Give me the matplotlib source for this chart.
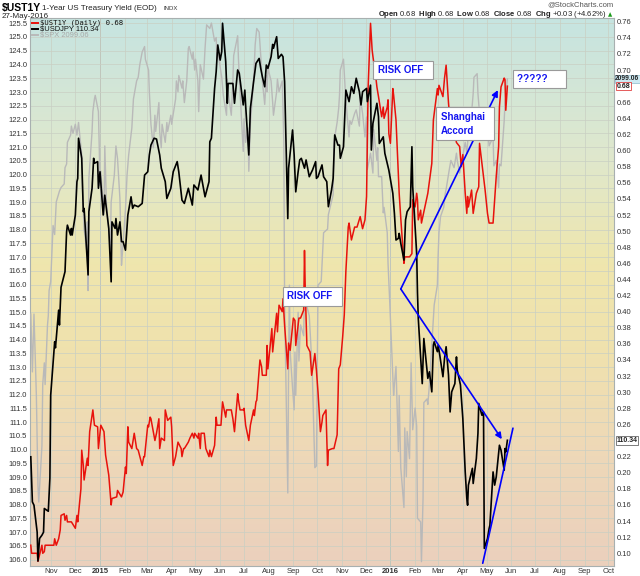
import matplotlib
matplotlib.use("Agg")
import matplotlib.pyplot as plt
import matplotlib.dates as mdates
import matplotlib.transforms as mtransforms
from matplotlib.colors import LinearSegmentedColormap
from matplotlib.lines import Line2D
import numpy as np
import pandas as pd

plt.rcParams['font.family'] = ['Liberation Sans', 'DejaVu Sans']
plt.rcParams['mathtext.fontset'] = 'custom'
plt.rcParams['mathtext.rm'] = 'Liberation Sans'
plt.rcParams['mathtext.bf'] = 'Liberation Sans:bold'

# trading days shown on the chart
first_day = "2014-10-06"
last_day = "2016-05-27"

# $USDJPY (left axis) - trading day number, close
jpy_day = [0, 2, 4, 6, 7, 9, 10, 12, 13, 16, 18, 19, 22, 23, 25, 26, 28, 31, 33, 34,
           36, 37, 38, 40, 42, 43, 44, 46, 48, 49, 52, 53, 55, 57, 58, 60, 61, 63, 65, 67,
           70, 73, 74, 76, 77, 79, 80, 82, 84, 85, 88, 90, 92, 94, 97, 100, 103, 105, 107, 109,
           111, 114, 116, 118, 121, 123, 126, 129, 132, 134, 136, 139, 142, 145, 147, 150, 154, 157, 160, 161,
           163, 165, 167, 169, 170, 172, 173, 175, 177, 178, 182, 184, 186, 188, 191, 193, 194, 196, 198, 200,
           203, 205, 207, 209, 210, 212, 214, 216, 218, 219, 221, 223, 225, 227, 229, 231, 232, 235, 237, 239,
           240, 242, 244, 246, 248, 250, 252, 254, 256, 257, 259, 262, 264, 266, 268, 270, 272, 274, 276, 278,
           279, 281, 284, 286, 289, 290, 293, 295, 297, 299, 302, 303, 305, 306, 308, 311, 313, 314, 317, 319,
           320, 322, 325, 327, 329, 330, 331, 333, 335, 337, 339, 341, 343, 344, 347, 348, 349, 352, 354, 357,
           359, 360, 362, 363, 365, 366, 368, 370, 372, 374, 375, 377, 379, 381, 383, 384, 386, 389, 390, 392,
           393, 394, 397, 398, 400, 402, 403, 405, 407, 408, 410, 412, 413, 415, 417, 419, 421, 423, 425, 426,
           427, 429]
jpy_val = [109.74, 108.10, 107.98, 107.00, 105.95, 106.77, 106.89, 107.00, 107.86, 107.76,
           108.96, 111.98, 113.92, 113.70, 115.07, 114.53, 115.90, 116.47, 117.92, 118.16,
           117.80, 118.04, 117.80, 118.53, 119.74, 119.86, 121.32, 120.59, 118.65, 118.77,
           116.35, 118.65, 119.50, 120.59, 120.41, 120.47, 119.50, 120.10, 118.53, 119.25,
           118.04, 116.10, 118.28, 118.04, 118.40, 117.80, 118.28, 117.56, 117.56, 117.25,
           118.53, 119.19, 118.77, 118.89, 118.83, 118.95, 119.98, 120.10, 120.71, 121.07,
           121.32, 121.29, 120.71, 120.23, 119.74, 119.13, 119.50, 120.10, 120.47, 120.10,
           119.07, 118.95, 119.50, 118.89, 119.62, 119.44, 119.98, 119.19, 119.74, 121.19,
           121.32, 123.13, 123.74, 124.71, 124.16, 124.47, 125.50, 124.10, 122.59, 123.31,
           123.31, 122.59, 123.80, 123.68, 122.53, 123.07, 122.53, 120.71, 122.41, 123.37,
           124.04, 124.22, 123.86, 123.56, 123.19, 123.98, 123.86, 124.28, 124.73, 124.59,
           125.01, 124.22, 124.37, 124.28, 123.37, 118.40, 120.23, 121.62, 120.71, 119.37,
           120.10, 120.53, 120.59, 120.23, 120.53, 119.92, 120.04, 120.16, 120.47, 119.86,
           119.92, 120.35, 119.92, 119.74, 118.83, 119.44, 119.86, 121.44, 121.07, 121.07,
           120.59, 121.01, 123.07, 122.65, 123.19, 122.95, 123.50, 123.01, 122.53, 123.01,
           123.13, 122.65, 123.25, 120.89, 121.86, 122.59, 122.10, 121.13, 121.37, 120.77,
           120.41, 120.16, 119.32, 118.59, 117.62, 117.68, 117.86, 117.50, 116.89, 118.35,
           118.65, 118.83, 121.01, 119.56, 117.13, 115.70, 114.77, 112.40, 114.04, 112.59,
           112.83, 112.10, 113.80, 113.92, 113.56, 113.80, 113.44, 112.65, 113.32, 113.74,
           112.71, 111.37, 112.10, 112.40, 113.37, 112.89, 112.35, 111.13, 109.19, 108.23,
           107.98, 108.71, 109.32, 108.77, 109.68, 110.59, 111.68, 111.25, 111.37, 106.41,
           106.77, 107.13, 107.25, 109.19, 108.71, 109.01, 110.16, 109.98, 109.25, 110.04,
           109.92, 110.34]

# $UST1Y (right axis) - trading day number, yield
ust_day = [0, 1, 6, 7, 10, 11, 13, 14, 21, 22, 24, 25, 27, 28, 30, 31, 33, 34, 37, 40,
           42, 43, 45, 46, 48, 49, 51, 52, 54, 56, 58, 60, 61, 64, 66, 68, 70, 71, 73, 74,
           78, 79, 82, 84, 85, 86, 88, 89, 91, 94, 95, 97, 100, 102, 103, 105, 106, 108, 109, 112,
           114, 115, 116, 118, 120, 121, 124, 126, 127, 129, 130, 133, 135, 136, 138, 139, 142, 144, 145, 147,
           148, 150, 151, 153, 154, 156, 158, 160, 161, 163, 165, 167, 168, 171, 173, 175, 176, 180, 182, 184,
           186, 187, 189, 191, 192, 194, 196, 198, 200, 201, 203, 204, 206, 208, 209, 212, 213, 214, 217, 218,
           221, 222, 224, 226, 227, 229, 231, 232, 234, 236, 238, 239, 241, 243, 245, 246, 247, 249, 251, 253,
           255, 257, 259, 260, 262, 263, 265, 267, 268, 271, 273, 275, 277, 279, 280, 282, 284, 285, 286, 289,
           291, 294, 296, 299, 300, 302, 303, 304, 305, 307, 308, 310, 311, 313, 315, 317, 318, 320, 321, 322,
           324, 325, 326, 329, 330, 331, 333, 335, 336, 340, 343, 344, 345, 347, 348, 349, 350, 351, 354, 357,
           360, 362, 365, 366, 367, 370, 372, 374, 375, 377, 381, 383, 385, 387, 389, 390, 392, 393, 394, 396,
           398, 400, 403, 404, 407, 409, 410, 412, 415, 417, 419, 420, 421, 423, 425, 426, 427, 429]
ust_val = [0.110, 0.100, 0.100, 0.090, 0.110, 0.100, 0.102, 0.110, 0.110, 0.118,
           0.110, 0.118, 0.129, 0.147, 0.149, 0.141, 0.147, 0.139, 0.139, 0.131,
           0.147, 0.139, 0.180, 0.228, 0.209, 0.191, 0.218, 0.209, 0.251, 0.278,
           0.259, 0.257, 0.230, 0.259, 0.251, 0.222, 0.197, 0.185, 0.160, 0.168,
           0.170, 0.178, 0.170, 0.176, 0.207, 0.199, 0.257, 0.238, 0.230, 0.249,
           0.230, 0.228, 0.209, 0.220, 0.220, 0.259, 0.257, 0.269, 0.267, 0.240,
           0.249, 0.267, 0.230, 0.243, 0.240, 0.278, 0.265, 0.269, 0.257, 0.209,
           0.220, 0.238, 0.230, 0.220, 0.230, 0.230, 0.238, 0.243, 0.249, 0.243,
           0.249, 0.243, 0.249, 0.230, 0.249, 0.249, 0.230, 0.220, 0.228, 0.220,
           0.234, 0.269, 0.259, 0.259, 0.288, 0.269, 0.278, 0.278, 0.267, 0.251,
           0.298, 0.290, 0.278, 0.278, 0.280, 0.259, 0.240, 0.259, 0.278, 0.271,
           0.288, 0.290, 0.340, 0.332, 0.321, 0.321, 0.358, 0.329, 0.379, 0.350,
           0.398, 0.375, 0.408, 0.400, 0.416, 0.383, 0.329, 0.361, 0.352, 0.392,
           0.389, 0.358, 0.392, 0.392, 0.402, 0.476, 0.425, 0.358, 0.350, 0.321,
           0.348, 0.327, 0.300, 0.251, 0.263, 0.271, 0.278, 0.209, 0.228, 0.230,
           0.230, 0.247, 0.329, 0.334, 0.369, 0.396, 0.450, 0.505, 0.510, 0.489,
           0.505, 0.505, 0.518, 0.503, 0.514, 0.543, 0.613, 0.679, 0.758, 0.725,
           0.717, 0.688, 0.679, 0.667, 0.642, 0.654, 0.640, 0.654, 0.663, 0.621,
           0.609, 0.677, 0.669, 0.638, 0.568, 0.547, 0.516, 0.460, 0.468, 0.468,
           0.472, 0.539, 0.530, 0.547, 0.539, 0.514, 0.526, 0.510, 0.524, 0.547,
           0.584, 0.638, 0.677, 0.669, 0.681, 0.667, 0.690, 0.706, 0.659, 0.635,
           0.620, 0.610, 0.605, 0.580, 0.595, 0.547, 0.522, 0.543, 0.530, 0.551,
           0.522, 0.547, 0.555, 0.609, 0.568, 0.551, 0.522, 0.510, 0.510, 0.539,
           0.568, 0.605, 0.654, 0.679, 0.690, 0.688, 0.650, 0.680]

# $SPX (overlay, no axis) - trading day number, close
spx_day = [0, 2, 4, 5, 7, 8, 10, 11, 13, 14, 15, 16, 17, 19, 20, 22, 24, 26, 28, 30,
           31, 33, 34, 36, 37, 39, 40, 42, 44, 46, 47, 49, 50, 51, 52, 53, 55, 56, 58, 59,
           61, 62, 63, 64, 66, 67, 69, 70, 72, 73, 75, 77, 79, 80, 82, 83, 85, 87, 89, 91,
           93, 95, 97, 99, 100, 103, 104, 106, 107, 109, 110, 112, 113, 115, 116, 118, 119, 121, 123, 124,
           126, 127, 130, 131, 133, 134, 136, 137, 139, 140, 142, 143, 145, 146, 148, 149, 150, 151, 153, 155,
           157, 159, 161, 163, 165, 167, 168, 169, 172, 174, 176, 177, 178, 180, 182, 183, 185, 186, 187, 189,
           191, 192, 194, 195, 196, 198, 200, 202, 204, 205, 207, 209, 210, 212, 213, 214, 216, 218, 219, 221,
           222, 224, 226, 227, 228, 229, 230, 231, 232, 233, 234, 235, 237, 238, 239, 240, 241, 243, 245, 246,
           248, 250, 252, 254, 255, 257, 258, 259, 261, 264, 267, 268, 272, 273, 275, 277, 278, 279, 281, 283,
           284, 286, 287, 289, 291, 293, 295, 296, 299, 300, 302, 303, 305, 308, 309, 311, 312, 313, 315, 317,
           318, 320, 321, 323, 326, 327, 329, 330, 331, 333, 335, 336, 338, 339, 340, 342, 344, 345, 347, 348,
           350, 351, 353, 354, 356, 357, 359, 363, 365, 366, 367, 369, 371, 373, 374, 376, 378, 380, 383, 384,
           385, 388, 390, 392, 394, 396, 398, 399, 401, 402, 404, 407, 409, 410, 412, 415, 416, 419, 420, 421,
           423, 425, 426, 427, 429]
spx_val = [1969, 1937, 1969, 1924, 1874, 1865, 1896, 1930, 1942, 1930,
           1963, 1968, 1982, 1987, 2018, 2013, 2031, 2037, 2039, 2041,
           2050, 2052, 2064, 2068, 2073, 2069, 2074, 2068, 2075, 2057,
           2038, 2016, 2005, 2020, 1982, 2044, 2070, 2081, 2088, 2090,
           2081, 2062, 2040, 2048, 2024, 2062, 2031, 2016, 2005, 2031,
           2046, 2062, 2055, 2033, 1996, 2002, 2027, 2046, 2057, 2072,
           2088, 2098, 2100, 2107, 2114, 2117, 2110, 2104, 2092, 2074,
           2061, 2079, 2070, 2086, 2070, 2061, 2074, 2064, 2075, 2070,
           2079, 2074, 2088, 2098, 2092, 2101, 2094, 2098, 2086, 2098,
           2116, 2117, 2110, 2114, 2104, 2110, 2098, 2081, 2107, 2099,
           2116, 2129, 2127, 2130, 2120, 2122, 2110, 2114, 2100, 2090,
           2079, 2099, 2092, 2079, 2098, 2112, 2121, 2123, 2110, 2092,
           2059, 2077, 2064, 2072, 2048, 2074, 2098, 2118, 2127, 2125,
           2112, 2098, 2085, 2101, 2092, 2105, 2098, 2086, 2079, 2092,
           2099, 2092, 2098, 2083, 2064, 1975, 1895, 1870, 1940, 1985,
           1948, 1928, 1916, 1948, 1924, 1970, 1943, 1963, 1957, 1985,
           1975, 1968, 1952, 1933, 1884, 1885, 1933, 1985, 1987, 2014,
           2016, 2024, 2035, 2064, 2075, 2083, 2090, 2104, 2110, 2095,
           2087, 2067, 2076, 2074, 2080, 2082, 2073, 2089, 2080, 2067,
           2078, 2049, 2058, 2047, 2071, 2054, 2061, 2045, 2045, 2025,
           2028, 2014, 1997, 1977, 1924, 1930, 1940, 1893, 1924, 1884,
           1862, 1906, 1879, 1904, 1889, 1942, 1905, 1917, 1907, 1856,
           1854, 1832, 1867, 1920, 1922, 1919, 1930, 1974, 1985, 2002,
           2014, 2023, 2028, 2036, 2038, 2049, 2054, 2050, 2058, 2054,
           2047, 2054, 2064, 2058, 2069, 2080, 2091, 2100, 2102, 2091,
           2080, 2076, 2071, 2076, 2062, 2067, 2051, 2054, 2039, 2052,
           2051, 2076, 2086, 2089, 2099.06]

jpy_last, ust_last, spx_last = 110.34, 0.68, 2099.06

days = pd.bdate_range(first_day, last_day)


def d(s):
    return mdates.date2num(pd.Timestamp(s))


def fx(px):
    return px / 640


def fy(py):
    return 1 - py / 576


fig = plt.figure(figsize=(6.4, 5.76), dpi=100)
fig.patch.set_facecolor("white")
ax = fig.add_axes([fx(30), fy(566), 584 / 640, 548 / 576])
ax_spx = ax.twinx()
ax_ust = ax.twinx()
ax_jpy = ax.twinx()

# background gradient
bg = LinearSegmentedColormap.from_list(
    "bg", [(0, "#c6e4e1"), (0.25, "#dfe8cd"), (0.45, "#efe6ad"),
           (0.6, "#f0e2ad"), (0.8, "#eed8b8"), (1, "#ebd0bd")])
ax.imshow(np.linspace(0, 1, 256).reshape(-1, 1), cmap=bg, extent=[0, 1, 0, 1],
          transform=ax.transAxes, aspect="auto", zorder=0)

ax_spx.plot(days[spx_day], spx_val, color="#b9b9b9", lw=1.0)
ax_ust.plot(days[ust_day], ust_val, color="#e8120c", lw=1.1)
ax_jpy.plot(days[jpy_day], jpy_val, color="black", lw=1.2)

jpy_lim = (105.77, 125.69)
ax.set_ylim(*jpy_lim)
ax_jpy.set_ylim(*jpy_lim)
ax_ust.set_ylim(0.0842, 0.7646)
ax_spx.set_ylim(1829.6, 2132.8)
ax.set_xlim(d("2014-10-05"), d("2016-10-08"))

# month ticks
months = pd.date_range("2014-11-01", "2016-10-01", freq="MS")
ax.set_xticks(months)
ax.set_xticklabels([str(m.year) if m.month == 1 else m.strftime("%b") for m in months])
for lab, m in zip(ax.get_xticklabels(), months):
    if m.month == 1:
        lab.set_fontweight("bold")
ax.tick_params(axis="x", length=0, pad=1.5, labelsize=5.5, labelcolor="#333333")

ax.set_yticks(np.arange(106.0, 125.51, 0.5))
ax.yaxis.set_major_formatter(matplotlib.ticker.FormatStrFormatter("%.1f"))
ax.tick_params(axis="y", length=0, pad=2, labelsize=5.5, labelcolor="#333333")

ust_ticks = np.arange(0.10, 0.761, 0.02)
ax_ust.set_yticks(ust_ticks)
# the last-value tags sit on top of these two labels
ax_ust.set_yticklabels(["" if round(t, 2) in (0.24, 0.68) else f"{t:.2f}" for t in ust_ticks])
ax_ust.tick_params(axis="y", length=0, pad=2, labelsize=5.5, labelcolor="#333333")

ax_spx.yaxis.set_visible(False)
ax_jpy.yaxis.set_visible(False)

ax.grid(True, color="#c9cfc3", lw=0.5)
for yr in ["2015-01-01", "2016-01-01"]:
    ax.axvline(d(yr), color="#adb3ab", lw=0.7, zorder=1)

for a in (ax_spx, ax_ust, ax_jpy):
    for s in a.spines.values():
        s.set_visible(False)
for s in ax.spines.values():
    s.set_color("#a8b0b0")
    s.set_linewidth(0.8)

# last-value tags on the right axis
tr_spx = mtransforms.blended_transform_factory(ax.transAxes, ax_spx.transData)
tr_ust = mtransforms.blended_transform_factory(ax.transAxes, ax_ust.transData)
tr_jpy = mtransforms.blended_transform_factory(ax.transAxes, ax_jpy.transData)
ax_jpy.text(1.002, spx_last, f"{spx_last:.2f}", transform=tr_spx, fontsize=4.8,
            fontweight="bold", color="#222222", va="center", ha="left",
            bbox=dict(boxstyle="square,pad=0.1", fc="#cde9f2", ec="#9cc4d4", lw=0.6))
ax_jpy.text(1.004, ust_last, f"{ust_last:.2f}", transform=tr_ust, fontsize=5,
            fontweight="bold", color="#222222", va="center", ha="left",
            bbox=dict(boxstyle="square,pad=0.12", fc="white", ec="#e04040", lw=0.6))
ax_jpy.text(1.004, jpy_last, f"{jpy_last:.2f}", transform=tr_jpy, fontsize=5,
            fontweight="bold", color="#222222", va="center", ha="left",
            bbox=dict(boxstyle="square,pad=0.12", fc="white", ec="#666666", lw=0.6))

# hand-drawn annotations
note_col = "#1414f0"
box = dict(boxstyle="square,pad=0.45", fc="white", ec="#9a9a9a", lw=0.8)
ax_jpy.text(d("2015-08-24"), 115.58, "RISK OFF  ", color=note_col, fontsize=7,
            fontweight="bold", va="center", ha="left", bbox=box, zorder=6)
ax_jpy.text(d("2015-12-16"), 123.80, "RISK OFF  ", color=note_col, fontsize=7,
            fontweight="bold", va="center", ha="left", bbox=box, zorder=6)
ax_jpy.text(d("2016-03-04"), 121.85, "Shanghai  \nAccord", color=note_col, fontsize=7,
            fontweight="bold", va="center", ha="left", linespacing=1.5, bbox=box, zorder=6)
ax_jpy.text(d("2016-06-08"), 123.47, "?????     ", color=note_col, fontsize=7,
            fontweight="bold", va="center", ha="left", bbox=box, zorder=6)

arrow = dict(arrowstyle="-|>", color="blue", lw=1.2, mutation_scale=9, shrinkA=0, shrinkB=0)
ax_jpy.annotate("", xy=(d("2016-05-15"), 123.07), xytext=(d("2016-01-14"), 115.84),
                arrowprops=arrow, zorder=5)
ax_jpy.annotate("", xy=(d("2016-05-20"), 110.38), xytext=(d("2016-01-14"), 115.84),
                arrowprops=arrow, zorder=5)
ax_jpy.annotate("", xy=(d("2016-06-03"), 110.78), xytext=(d("2016-04-26"), 105.87),
                arrowprops=dict(arrowstyle="-", color="blue", lw=1.2, shrinkA=0, shrinkB=0),
                zorder=5)

# legend block
legend_rows = [("#e8120c", r"\$UST1Y (Daily) 0.68", "#111111", "DejaVu Sans Mono", 5.2),
               ("black", r"\$USDJPY 110.34", "#111111", "Liberation Sans", 5.4),
               ("#b9b9b9", r"\$SPX 2099.06", "#a8a8a8", "Liberation Sans", 5.4)]
for i, (lc, txt, tc, fam, fs) in enumerate(legend_rows):
    yy = fy(23 + 6 * i)
    fig.add_artist(Line2D([fx(31.5), fx(37.5)], [yy, yy], color=lc, lw=1.4))
    fig.text(fx(39.5), yy, txt, color=tc, fontsize=fs, family=fam, va="center", ha="left")

# header
fig.text(fx(2), fy(8), r"\$UST1Y", fontsize=7.5, fontweight="bold", va="center", ha="left")
fig.text(fx(42), fy(8), "1-Year US Treasury Yield (EOD)", fontsize=5.8, va="center",
         ha="left", color="#222222")
fig.text(fx(163), fy(8.5), "INDX", fontsize=4.3, va="center", ha="left", color="#333333")
fig.text(fx(2), fy(16), "27-May-2016", fontsize=5.8, va="center", ha="left", color="#222222")
fig.text(fx(614), fy(5), "@StockCharts.com", fontsize=5.5, va="center", ha="right",
         color="#555555")
fig.text(fx(606), fy(14),
         r"$\mathbf{Open}$ 0.68  $\mathbf{High}$ 0.68  $\mathbf{Low}$ 0.68  "
         r"$\mathbf{Close}$ 0.68  $\mathbf{Chg}$ +0.03 (+4.62%)",
         fontsize=5.5, va="center", ha="right", color="#222222")
fig.text(fx(608), fy(14.5), "\u25b2", fontsize=4, va="center", ha="left", color="#1a9a1a",
         family=["DejaVu Sans"])

fig.savefig("out.png", dpi=100)
